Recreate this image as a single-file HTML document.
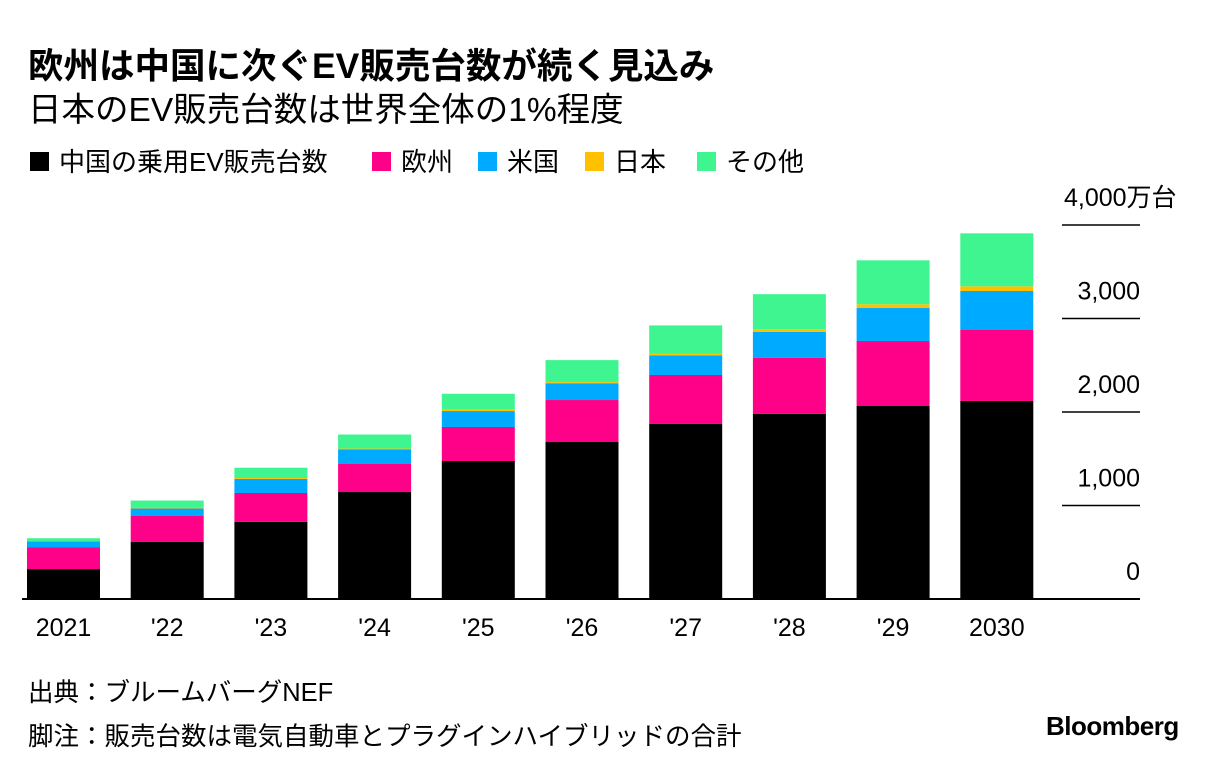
<!DOCTYPE html>
<html><head><meta charset="utf-8"><style>
body{margin:0;background:#fff;font-family:"Liberation Sans","Noto Sans CJK JP",sans-serif;color:#000;}
#wrap{position:relative;width:1224px;height:772px;overflow:hidden;}
.t{position:absolute;white-space:nowrap;}
</style></head><body>
<div id="wrap">
<div class="t" style="left:28px;top:38px;font-size:35.5px;font-weight:bold;">欧州は中国に次ぐEV販売台数が続く見込み</div>
<div class="t" style="left:28px;top:82px;font-size:33.5px;">日本のEV販売台数は世界全体の1%程度</div>
<svg id="c" width="1224" height="772" style="position:absolute;left:0;top:0"></svg>
<div class="t" style="left:28px;top:672px;font-size:25.5px;">出典：ブルームバーグNEF</div>
<div class="t" style="left:28px;top:716px;font-size:25.5px;">脚注：販売台数は電気自動車とプラグインハイブリッドの合計</div>
<div class="t" style="left:1046px;top:711px;font-size:26px;font-weight:bold;letter-spacing:-0.5px;">Bloomberg</div>
</div>
<script>
const categories=["2021","'22","'23","'24","'25","'26","'27","'28","'29","2030"];
const china=[320,610,824,1144,1476,1679,1872,1979,2064,2118];
const europe=[235,278,310,300,364,449,524,599,695,759];
const us=[60,80,150,155,170,180,210,278,353,417];
const japan=[5,10,10,10,15,12,20,30,40,50];
const other=[30,75,110,150,170,235,300,374,470,567];
const ticks=[0,1000,2000,3000,4000];
const tickLabels=["0","1,000","2,000","3,000","4,000万台"];
const seriesNames=["中国の乗用EV販売台数","欧州","米国","日本","その他"];
const colors=["#000000","#ff0088","#00aaff","#ffc000","#3ff58f"];
const keys=["china","europe","us","japan","other"];
const series=[china,europe,us,japan,other];
const NS="http://www.w3.org/2000/svg";
const svg=document.getElementById('c');
const y0=599,pxPer=93.5/1000;
const y=v=>y0-v*pxPer;
const x=i=>27+i*103.7;
const bw=73;
function mk(t,a){const e=document.createElementNS(NS,t);for(const k in a)e.setAttribute(k,a[k]);svg.appendChild(e);return e;}
ticks.forEach((t,i)=>{
  const l=mk('line',{x1:1062,x2:1140,y1:y(t),y2:y(t),stroke:'#000','stroke-width':1.5});
  
  
  const tx=mk('text',{x:i==4?1064:1140,y:y(t)-19,'font-size':25,'text-anchor':i==4?'start':'end','font-family':'"Liberation Sans","Noto Sans CJK JP",sans-serif'});
  tx.textContent=tickLabels[i];
  
  
});
categories.forEach((c,i)=>{
  let acc=0;
  series.forEach((s,k)=>{
    const r=mk('rect',{x:x(i),width:bw,y:y(acc+s[i]),height:s[i]*pxPer,fill:colors[k]});
    
    
    acc+=s[i];
  });
  const tx=mk('text',{x:x(i)+bw/2,y:636,'font-size':25,'text-anchor':'middle','font-family':'"Liberation Sans",sans-serif'});
  tx.textContent=c;
  
  
});
const ax=mk('line',{x1:22,x2:1140,y1:y0,y2:y0,stroke:'#000','stroke-width':2});


const legX=[30,372,478,585,697];
seriesNames.forEach((n,k)=>{
  const r=mk('rect',{x:legX[k],y:152,width:19,height:19,fill:colors[k]});
  
  
  const t=mk('text',{x:legX[k]+29,y:171,'font-size':26,'font-family':'"Liberation Sans","Noto Sans CJK JP",sans-serif'});
  t.textContent=n;
  
  
});
</script>
</body></html>
